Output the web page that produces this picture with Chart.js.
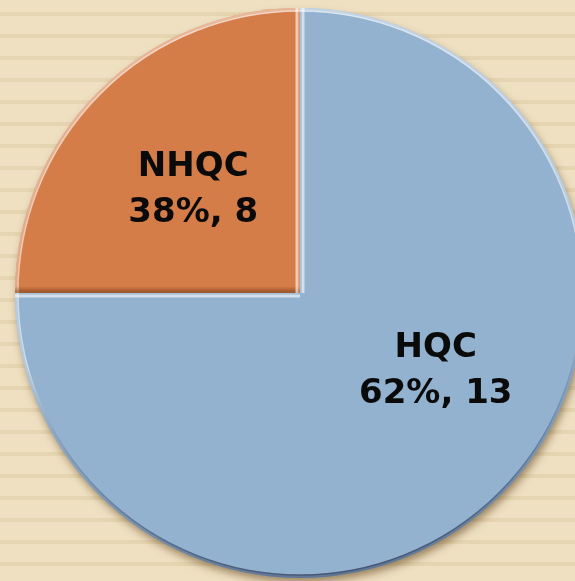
<!DOCTYPE html>
<html><head><meta charset="utf-8">
<script src="https://cdn.jsdelivr.net/npm/chart.js@4"></script>
<style>
html,body{margin:0;padding:0;width:575px;height:581px;overflow:hidden;}
body{background:repeating-linear-gradient(180deg,#EFE0C2 0px,#EFE0C2 12px,#E6D5B1 12px,#E6D5B1 16px,#EFE0C2 16px,#EFE0C2 22px);}
canvas{display:block;position:absolute;left:0;top:0;}
</style></head><body>
<canvas id="c" width="600" height="586"></canvas>
<script>
// Data
const categories = ['HQC', 'NHQC'];
const counts = [13, 8];
const percentLabels = ['62%', '38%'];
// Slice sizes as they are drawn in the picture (three quarters / one quarter)
const sliceShares = [75, 25];

const sliceColors = ['#92B2CF', '#D57D48'];

const shadowPlugin = {
  id: 'pieShadow',
  beforeDatasetsDraw(chart) {
    const arc = chart.getDatasetMeta(0).data[0];
    if (!arc) return;
    const { x, y, outerRadius } = arc.getProps(['x', 'y', 'outerRadius'], true);
    const ctx = chart.ctx;
    ctx.save();
    ctx.shadowColor = 'rgba(95,65,25,0.6)';
    ctx.shadowBlur = 9;
    ctx.shadowOffsetX = 2;
    ctx.shadowOffsetY = 5;
    ctx.beginPath();
    ctx.arc(x, y, outerRadius - 1, 0, Math.PI * 2);
    ctx.fillStyle = sliceColors[0];
    ctx.fill();
    ctx.restore();
  }
};

const bevelPlugin = {
  id: 'bevel',
  afterDatasetsDraw(chart) {
    const ctx = chart.ctx;
    chart.getDatasetMeta(0).data.forEach((arc) => {
      const { x, y, startAngle, endAngle, outerRadius: r } =
        arc.getProps(['x', 'y', 'startAngle', 'endAngle', 'outerRadius'], true);
      ctx.save();
      ctx.beginPath();
      ctx.moveTo(x, y);
      ctx.arc(x, y, r, startAngle, endAngle);
      ctx.closePath();
      ctx.clip();
      // outer arc edge: light at top, dark at bottom
      const g = ctx.createLinearGradient(x, y - r, x + r * 0.3, y + r);
      g.addColorStop(0, 'rgba(255,255,255,0.45)');
      g.addColorStop(0.55, 'rgba(255,255,255,0.3)');
      g.addColorStop(0.75, 'rgba(40,50,80,0.15)');
      g.addColorStop(1, 'rgba(30,40,70,0.45)');
      ctx.beginPath();
      ctx.arc(x, y, r, startAngle, endAngle);
      ctx.lineWidth = 7;
      ctx.strokeStyle = g;
      ctx.stroke();
      ctx.beginPath();
      ctx.arc(x, y, r - 3, startAngle, endAngle);
      ctx.lineWidth = 1.5;
      ctx.strokeStyle = g;
      ctx.stroke();
      // straight edges: lit when facing up/left/right, shaded when facing down
      const edges = [
        { a: startAngle, nx: Math.sin(startAngle), ny: -Math.cos(startAngle) },
        { a: endAngle, nx: -Math.sin(endAngle), ny: Math.cos(endAngle) }
      ];
      edges.forEach((e) => {
        const dark = e.ny > 0.5;
        if (dark) {
          for (let k = 0; k < 4; k++) {
            ctx.beginPath();
            ctx.moveTo(x - e.nx * (k * 1.5), y - e.ny * (k * 1.5));
            ctx.lineTo(x + Math.cos(e.a) * r - e.nx * (k * 1.5), y + Math.sin(e.a) * r - e.ny * (k * 1.5));
            ctx.lineWidth = 3;
            ctx.strokeStyle = 'rgba(90,40,10,' + (0.28 - k * 0.06) + ')';
            ctx.stroke();
          }
        } else {
          ctx.beginPath();
          ctx.moveTo(x, y);
          ctx.lineTo(x + Math.cos(e.a) * r, y + Math.sin(e.a) * r);
          ctx.lineWidth = 10;
          ctx.strokeStyle = 'rgba(255,255,255,0.2)';
          ctx.stroke();
          ctx.beginPath();
          ctx.moveTo(x - e.nx * 3, y - e.ny * 3);
          ctx.lineTo(x + Math.cos(e.a) * r - e.nx * 3, y + Math.sin(e.a) * r - e.ny * 3);
          ctx.lineWidth = 2.5;
          ctx.strokeStyle = 'rgba(255,255,255,0.5)';
          ctx.stroke();
        }
      });
      ctx.restore();
    });
  }
};

const labelPlugin = {
  id: 'sliceLabels',
  afterDatasetsDraw(chart, args, opts) {
    const ctx = chart.ctx;
    chart.getDatasetMeta(0).data.forEach((arc, i) => {
      const c = arc.getCenterPoint(true);
      const off = opts.offsets[i] || [0, 0];
      const cx = c.x + off[0], cy = c.y + off[1];
      ctx.save();
      ctx.font = 'bold 34px "DejaVu Sans", sans-serif';
      ctx.fillStyle = '#0a0a0a';
      ctx.textAlign = 'center';
      ctx.textBaseline = 'middle';
      ctx.fillText(categories[i], cx, cy - opts.lineGap / 2);
      ctx.fillText(percentLabels[i] + ', ' + counts[i], cx, cy + opts.lineGap / 2);
      ctx.restore();
    });
  }
};

new Chart(document.getElementById('c'), {
  type: 'pie',
  data: {
    labels: categories,
    datasets: [{
      data: sliceShares,
      backgroundColor: sliceColors,
      borderWidth: 0,
      hoverOffset: 0
    }]
  },
  options: {
    responsive: false,
    animation: false,
    layout: { padding: { left: 15, right: 15, top: 8, bottom: 8 } },
    plugins: {
      legend: { display: false },
      tooltip: { enabled: false },
      sliceLabels: { offsets: [[35, -23], [-6, -2]], lineGap: 46 }
    },
    events: []
  },
  plugins: [shadowPlugin, bevelPlugin, labelPlugin]
});
</script>
</body></html>
